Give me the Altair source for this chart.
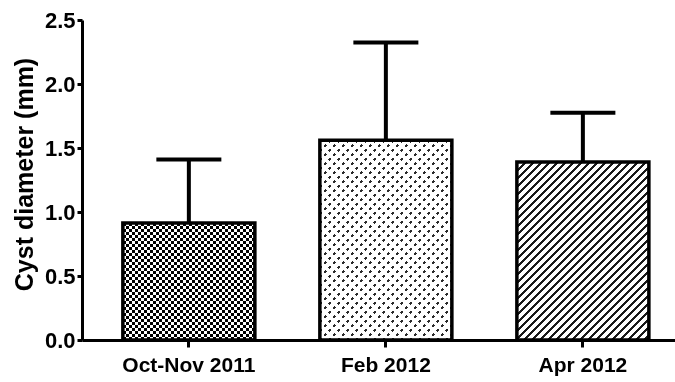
import altair as alt
import pandas as pd

# Mean cyst diameter per sampling period, with the standard deviation
periods = ["Oct-Nov 2011", "Feb 2012", "Apr 2012"]
mean_mm = [0.915, 1.56, 1.39]
sd_mm = [0.495, 0.765, 0.385]

df = pd.DataFrame({
    "period": periods,
    "mean": mean_mm,
    "upper": [m + s for m, s in zip(mean_mm, sd_mm)],
})

PLOT_W, PLOT_H = 593, 320
Y_MAX = 2.5
PAD_INNER, PAD_OUTER, ALIGN = 0.33, 0.17, 0.61
step = PLOT_W / (len(periods) - PAD_INNER + 2 * PAD_OUTER)
BAR_W = step * (1 - PAD_INNER)
FONT = "Liberation Sans"


def stripes(p1, p2, length, period, dark, light="#ffffff", dark_frac=0.5):
    """Linear gradient with hard stops, giving stripes of the given pixel period."""
    stops = []
    n = int(length / period) + 2
    for i in range(n):
        a = i * period / length
        b = (i * period + period * dark_frac) / length
        c = (i + 1) * period / length
        for off, col in ((a, dark), (b, dark), (b, light), (c, light)):
            if off <= 1:
                stops.append({"offset": round(off, 5), "color": col})
    return {"gradient": "linear", "x1": p1[0], "y1": p1[1],
            "x2": p2[0], "y2": p2[1], "stops": stops}


def diag(w, h, rising, period, dark, dark_frac):
    """45-degree stripes on a w x h box (gradient space is the bounding box)."""
    d = w * w + h * h
    gx, gy = (w + h) * w / d, (w + h) * h / d
    if rising:
        return stripes((0, 0), (gx, gy), w + h, period, dark, dark_frac=dark_frac)
    return stripes((0, 1), (gx, 1 - gy), w + h, period, dark, dark_frac=dark_frac)


heights = [m * PLOT_H / Y_MAX for m in mean_mm]

# fill layers per bar: (base gradient, overlay gradient, blend mode)
fills = [
    (stripes((0, 0), (1, 0), BAR_W, 6, "#000000"),
     stripes((0, 0), (0, 1), heights[0], 6, "#000000"), "difference"),
    (diag(BAR_W, heights[1], True, 9, "#2a2a2a", 0.42),
     diag(BAR_W, heights[1], False, 9, "#2a2a2a", 0.42), "lighten"),
    (diag(BAR_W, heights[2], True, 8, "#1a1a1a", 0.36), None, None),
]

x_enc = alt.X(
    "period:N", sort=periods, title=None,
    scale=alt.Scale(paddingInner=PAD_INNER, paddingOuter=PAD_OUTER, align=ALIGN),
    axis=alt.Axis(labelAngle=0, labelFont=FONT, labelFontWeight="bold",
                  labelFontSize=21, labelColor="black", labelPadding=7,
                  tickSize=7, tickWidth=3, tickColor="black",
                  domainWidth=3, domainColor="black", grid=False),
)
y_enc = alt.Y(
    "mean:Q", title="Cyst diameter (mm)",
    scale=alt.Scale(domain=[0, Y_MAX], nice=False),
    axis=alt.Axis(values=[0, 0.5, 1.0, 1.5, 2.0, 2.5], format=".1f", grid=False,
                  labelFont=FONT, labelFontWeight="bold", labelFontSize=22,
                  labelColor="black", labelPadding=2,
                  tickSize=5, tickWidth=3, tickColor="black",
                  domainWidth=3, domainColor="black",
                  titleFont=FONT, titleFontWeight="bold", titleFontSize=25,
                  titleColor="black", titleX=-58, titleY=154, titleAngle=-90,
                  titleAlign="center", titleBaseline="middle"),
)

base = alt.Chart(df)
layers = []
for name, (g1, g2, mode) in zip(periods, fills):
    sel = base.transform_filter(alt.datum.period == name)
    layers.append(sel.mark_bar(fill=g1, strokeWidth=0).encode(x=x_enc, y=y_enc))
    if g2 is not None:
        layers.append(sel.mark_bar(fill=g2, strokeWidth=0, blend=mode)
                      .encode(x=x_enc, y=y_enc))

outline = base.mark_bar(fillOpacity=0, stroke="black", strokeWidth=3.5).encode(
    x=x_enc, y=y_enc)
err_line = base.mark_rule(color="black", strokeWidth=4, opacity=1).encode(
    x=x_enc, y="mean:Q", y2="upper:Q")
err_cap = base.mark_tick(color="black", size=65, thickness=4, opacity=1).encode(
    x=x_enc, y="upper:Q")

chart = alt.layer(*layers, err_line, outline, err_cap).properties(
    width=PLOT_W, height=PLOT_H,
    background="white",
    autosize=alt.AutoSizeParams(type="none"),
    padding={"left": 82, "top": 20, "right": 0, "bottom": 42},
).configure_view(strokeWidth=0, strokeOpacity=0).configure_axis(grid=False)

chart.save("out.html", embed_options={"renderer": "svg", "actions": False})
